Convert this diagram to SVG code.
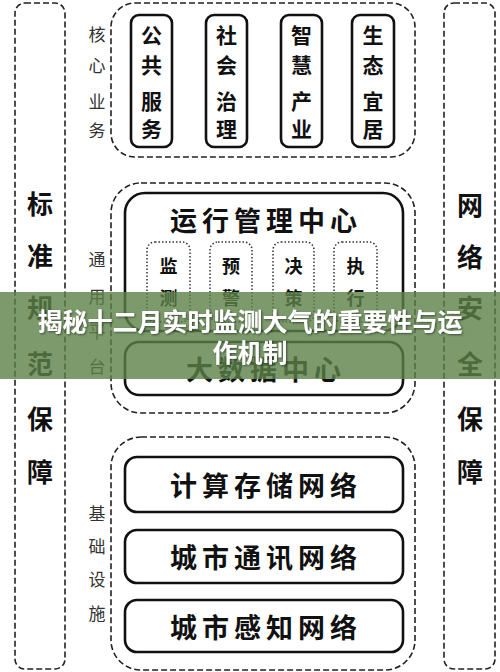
<svg xmlns="http://www.w3.org/2000/svg" width="500" height="672" viewBox="0 0 500 672">
<defs>
<style>
.dash{fill:none;stroke:#222;stroke-width:1.6;stroke-dasharray:6,3}
.solid{fill:#fff;stroke:#111;stroke-width:2.6}
.dot{fill:none;stroke:#333;stroke-width:1.5;stroke-dasharray:1.5,2}
.cj{font-family:"Noto Sans CJK SC",sans-serif;fill:#111;text-anchor:middle;dominant-baseline:central}
.big{font-size:26px;font-weight:700}
.wide{font-size:27px;font-weight:700;letter-spacing:5px}
.box{font-size:21px;font-weight:700}
.side{font-size:17px;font-weight:400;fill:#333}
.mid{font-size:18px;font-weight:700}
.ttl{font-family:"Noto Sans CJK SC",sans-serif;font-size:25px;font-weight:700;fill:#fff;text-anchor:middle}
</style>
<filter id="sh" x="-5%" y="-20%" width="110%" height="140%">
<feDropShadow dx="1" dy="1" stdDeviation="1" flood-color="#000" flood-opacity="0.5"/>
</filter>
</defs>
<rect width="500" height="672" fill="#fff"/>

<g id="left-col">
<rect class="dash" x="15" y="3" width="50" height="666" rx="10"/>
<text class="cj big" x="40" y="202">标</text>
<text class="cj big" x="40" y="254">准</text>
<text class="cj big" x="40" y="306">规</text>
<text class="cj big" x="40" y="362">范</text>
<text class="cj big" x="40" y="417">保</text>
<text class="cj big" x="40" y="470">障</text>
</g>

<g id="right-col">
<rect class="dash" x="444" y="3" width="51" height="666" rx="10"/>
<text class="cj big" x="470" y="203">网</text>
<text class="cj big" x="470" y="255">络</text>
<text class="cj big" x="470" y="306">安</text>
<text class="cj big" x="470" y="362">全</text>
<text class="cj big" x="470" y="417">保</text>
<text class="cj big" x="470" y="470">障</text>
</g>

<g id="core">
<rect class="dash" x="111" y="3" width="304" height="154" rx="24"/>
<text class="cj side" x="97" y="33">核</text>
<text class="cj side" x="97" y="64">心</text>
<text class="cj side" x="97" y="100">业</text>
<text class="cj side" x="97" y="129">务</text>
</g>
<g id="gonggong">
<rect class="solid" x="131" y="15" width="41" height="132" rx="8"/>
<text class="cj box" x="151.5" y="34">公</text>
<text class="cj box" x="151.5" y="64">共</text>
<text class="cj box" x="151.5" y="100">服</text>
<text class="cj box" x="151.5" y="128">务</text>
</g>
<g id="shehui">
<rect class="solid" x="206" y="15" width="41" height="132" rx="8"/>
<text class="cj box" x="226.5" y="34">社</text>
<text class="cj box" x="226.5" y="64">会</text>
<text class="cj box" x="226.5" y="100">治</text>
<text class="cj box" x="226.5" y="128">理</text>
</g>
<g id="zhihui">
<rect class="solid" x="281" y="15" width="41" height="132" rx="8"/>
<text class="cj box" x="301.5" y="34">智</text>
<text class="cj box" x="301.5" y="64">慧</text>
<text class="cj box" x="301.5" y="100">产</text>
<text class="cj box" x="301.5" y="128">业</text>
</g>
<g id="shengtai">
<rect class="solid" x="352" y="15" width="42" height="132" rx="8"/>
<text class="cj box" x="373" y="34">生</text>
<text class="cj box" x="373" y="64">态</text>
<text class="cj box" x="373" y="100">宜</text>
<text class="cj box" x="373" y="128">居</text>
</g>

<g id="platform">
<rect class="dash" x="111" y="183" width="304" height="230" rx="30"/>
<text class="cj side" x="97" y="258">通</text>
<text class="cj side" x="97" y="295">用</text>
<text class="cj side" x="97" y="330">平</text>
<text class="cj side" x="97" y="365">台</text>
</g>
<g id="yunxing">
<rect class="solid" x="125" y="193" width="278" height="138" rx="20"/>
<text class="cj wide" x="266" y="219">运行管理中心</text>
</g>
<g id="jiance">
<rect class="dot" x="147" y="242" width="43" height="80" rx="8"/>
<text class="cj mid" x="168.5" y="265">监</text>
<text class="cj mid" x="168.5" y="297">测</text>
</g>
<g id="yujing">
<rect class="dot" x="210" y="242" width="42" height="80" rx="8"/>
<text class="cj mid" x="231" y="265">预</text>
<text class="cj mid" x="231" y="297">警</text>
</g>
<g id="juece">
<rect class="dot" x="273" y="242" width="41" height="80" rx="8"/>
<text class="cj mid" x="293.5" y="265">决</text>
<text class="cj mid" x="293.5" y="297">策</text>
</g>
<g id="zhixing">
<rect class="dot" x="334" y="242" width="43" height="80" rx="8"/>
<text class="cj mid" x="355.5" y="265">执</text>
<text class="cj mid" x="355.5" y="297">行</text>
</g>
<g id="dashuju">
<rect class="solid" x="125" y="342" width="278" height="53" rx="14"/>
<text class="cj wide" x="266" y="368">大数据中心</text>
</g>

<g id="infra">
<rect class="dash" x="111" y="437" width="304" height="233" rx="30"/>
<text class="cj side" x="97" y="512">基</text>
<text class="cj side" x="97" y="545">础</text>
<text class="cj side" x="97" y="578">设</text>
<text class="cj side" x="97" y="612">施</text>
</g>
<g id="jisuan">
<rect class="solid" x="125" y="457" width="278" height="55" rx="12"/>
<text class="cj wide" x="266" y="484">计算存储网络</text>
</g>
<g id="tongxun">
<rect class="solid" x="125" y="530" width="278" height="53" rx="12"/>
<text class="cj wide" x="266" y="556">城市通讯网络</text>
</g>
<g id="ganzhi">
<rect class="solid" x="125" y="600" width="278" height="52" rx="12"/>
<text class="cj wide" x="266" y="626">城市感知网络</text>
</g>

<g id="connectors"></g>

<g id="banner">
<rect x="0" y="292" width="500" height="87" fill="rgb(91,129,71)" fill-opacity="0.8"/>
<g filter="url(#sh)">
<text class="ttl" x="250" y="331">揭秘十二月实时监测大气的重要性与运</text>
<text class="ttl" x="250" y="362">作机制</text>
</g>
</g>
</svg>
